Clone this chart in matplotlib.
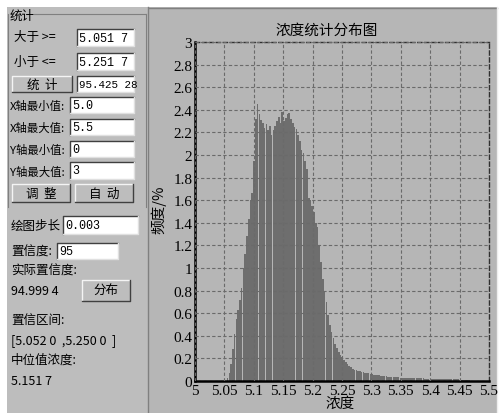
import numpy as np
import matplotlib
matplotlib.use('Agg')
import matplotlib.pyplot as plt
from matplotlib.patches import Rectangle

plt.rcParams['font.family'] = ['Noto Sans CJK SC', 'DejaVu Sans']

# histogram of concentration, step 0.003 from 5.0
step = 0.003
x_start = 5.0
freq = [0.0] * 17 + [
    0.0, 0.03, 0.07, 0.15, 0.28, 0.42, 0.55, 0.63, 0.72, 0.82,
    1.0, 1.12, 1.28, 1.43, 1.6, 1.66, 1.95, 2.32, 2.45, 2.36,
    2.31, 2.28, 2.24, 2.27, 2.22, 2.26, 2.18, 2.22, 2.26, 2.3,
    2.34, 2.28, 2.38, 2.3, 2.33, 2.36, 2.37, 2.32, 2.28, 2.25,
    2.23, 2.18, 2.12, 2.04, 2.02, 1.95, 1.88, 1.62, 1.6, 1.55,
    1.5, 1.4, 1.36, 1.2, 1.05, 0.9, 0.8, 0.7, 0.58, 0.5,
    0.43, 0.38, 0.33, 0.29, 0.26, 0.23, 0.21, 0.19, 0.17, 0.15,
    0.135, 0.12, 0.11, 0.1, 0.095, 0.09, 0.085, 0.08, 0.077, 0.073,
    0.07, 0.068, 0.065, 0.06,
    0.057, 0.055, 0.052, 0.05, 0.047, 0.045, 0.042, 0.04, 0.039, 0.037,
    0.036, 0.034, 0.033, 0.032, 0.031, 0.03, 0.03, 0.029, 0.028, 0.027,
    0.027, 0.026, 0.026, 0.025, 0.025, 0.024, 0.024, 0.023, 0.023, 0.022,
    0.022, 0.021, 0.021, 0.02, 0.02, 0.02, 0.019, 0.019, 0.018, 0.018,
    0.017, 0.017, 0.016, 0.016, 0.015, 0.015, 0.015, 0.014, 0.014, 0.013,
    0.013, 0.012, 0.01, 0.008, 0.006, 0.004, 0.003, 0.002,
] + [0.0] * 8

x_ticks = [5.0, 5.05, 5.1, 5.15, 5.2, 5.25, 5.3, 5.35, 5.4, 5.45, 5.5]
x_tick_labels = ['5', '5.05', '5.1', '5.15', '5.2', '5.25', '5.3', '5.35', '5.4', '5.45', '5.5']
y_ticks = [0, 0.2, 0.4, 0.6, 0.8, 1, 1.2, 1.4, 1.6, 1.8, 2, 2.2, 2.4, 2.6, 2.8, 3]
y_tick_labels = ['0', '0.2', '0.4', '0.6', '0.8', '1', '1.2', '1.4', '1.6', '1.8',
                 '2', '2.2', '2.4', '2.6', '2.8', '3']

# left panel texts: text, x, y, size
labels = [('大于 >=', 14, 38, 9), ('小于 <=', 14, 62, 9),
          ('X轴最小值:', 10, 106, 8.2), ('X轴最大值:', 10, 128, 8.2),
          ('Y轴最小值:', 10, 150, 8.2), ('Y轴最大值:', 10, 172, 8.2),
          ('绘图步长', 11, 226, 9), ('置信度:', 11, 252, 9), ('实际置信度:', 11, 271, 9),
          ('94.999 4', 11, 292, 9), ('置信区间:', 11, 320, 9),
          ('[5.052 0  ,5.250 0  ]', 11, 341, 9), ('中位值浓度:', 11, 360, 9),
          ('5.151 7', 11, 382, 9)]
edits = [('5.051 7', 77, 30, 134, 47), ('5.251 7', 77, 54, 134, 71),
         ('95.425 28', 77, 77, 134, 93), ('5.0', 70, 98, 134, 114),
         ('5.5', 70, 120, 134, 136), ('0', 70, 142, 134, 158),
         ('3', 70, 163, 134, 180), ('0.003', 63, 217, 138, 235),
         ('95', 57, 244, 118, 260)]
buttons = [('统  计', 12, 77, 72, 93), ('调  整', 12, 185, 70, 203),
           ('自  动', 75, 185, 133, 203), ('分布', 82, 281, 130, 302)]

W, H = 503, 414
fig = plt.figure(figsize=(W / 100, H / 100), dpi=100)
fig.patch.set_facecolor('white')

bg = fig.add_axes([0, 0, 1, 1])
bg.set_xlim(0, W)
bg.set_ylim(H, 0)
bg.axis('off')

panel = '#bdbdbd'
bg.add_patch(Rectangle((7, 8), 141, H - 8, facecolor=panel, edgecolor='none'))
bg.add_patch(Rectangle((149, 8), 348, H - 8, facecolor='#b6b6b6', edgecolor='none'))
bg.plot([148, 148], [8, H], color='#808080', lw=1)
bg.plot([149, 497], [8.5, 8.5], color='#808080', lw=1)
bg.plot([497, 497], [8, H], color='#eeeeee', lw=1)

# group box
bg.plot([34, 146], [15, 15], color='#808080', lw=0.8)
bg.plot([146, 146], [15, 208], color='#808080', lw=0.8)
bg.plot([8, 8], [15, 208], color='#808080', lw=0.8)
bg.text(10, 16, '统计', fontsize=9, va='center', ha='left')


def sunken(x0, y0, x1, y1):
    bg.add_patch(Rectangle((x0, y0), x1 - x0, y1 - y0, facecolor='white', edgecolor='none'))
    bg.plot([x0, x0, x1], [y1, y0, y0], color='#404040', lw=1)
    bg.plot([x0, x1, x1], [y1, y1, y0], color='#e0e0e0', lw=1)


def raised(x0, y0, x1, y1):
    bg.add_patch(Rectangle((x0, y0), x1 - x0, y1 - y0, facecolor=panel, edgecolor='none'))
    bg.plot([x0, x0, x1], [y1, y0, y0], color='#f4f4f4', lw=1)
    bg.plot([x0, x1, x1], [y1, y1, y0], color='#404040', lw=1)


for t, x, y, fs in labels:
    bg.text(x, y, t, fontsize=fs, va='center', ha='left',
            family=['Noto Sans CJK SC', 'DejaVu Sans'])
for t, x0, y0, x1, y1 in edits:
    sunken(x0, y0, x1, y1)
    fs = 7.8 if len(t) > 8 else 8.5
    bg.text(x0 + 2, (y0 + y1) / 2, t, fontsize=fs, va='center', ha='left',
            family='Liberation Mono')
for t, x0, y0, x1, y1 in buttons:
    raised(x0, y0, x1, y1)
    bg.text((x0 + x1) / 2, (y0 + y1) / 2, t, fontsize=9, va='center', ha='center')

bg.text(327, 31, '浓度统计分布图', fontsize=10.5, va='center', ha='center')
bg.text(159, 210, '频度/%', fontsize=10.5, va='center', ha='center', rotation=90)
bg.text(340, 404, '浓度', fontsize=10.5, va='center', ha='center')

# chart
ax = fig.add_axes([195 / W, 1 - 382 / H, 294 / W, 339 / H])
ax.set_facecolor('#b6b6b6')
lefts = x_start + step * np.arange(len(freq))
ax.bar(lefts, freq, width=step * 0.92, align='edge', color='#6e6e6e', linewidth=0)
ax.set_xlim(5.0, 5.5)
ax.set_ylim(0, 3)
ax.set_xticks(x_ticks)
ax.set_xticklabels(x_tick_labels)
ax.set_yticks(y_ticks)
ax.set_yticklabels(y_tick_labels)
for lab in ax.get_xticklabels() + ax.get_yticklabels():
    lab.set_family('Liberation Serif')
    lab.set_fontsize(11)
ax.tick_params(length=0, pad=2)
ax.grid(True, color='#6a6a6a', linestyle=(0, (3, 2)), linewidth=0.8)
ax.set_axisbelow(False)
ax.spines['left'].set_linewidth(1.8)
ax.spines['bottom'].set_linewidth(1.8)
for s in ['top', 'right']:
    ax.spines[s].set_linestyle((0, (3, 2)))
    ax.spines[s].set_color('#303030')
    ax.spines[s].set_linewidth(1)

fig.savefig('out.png', dpi=100)
